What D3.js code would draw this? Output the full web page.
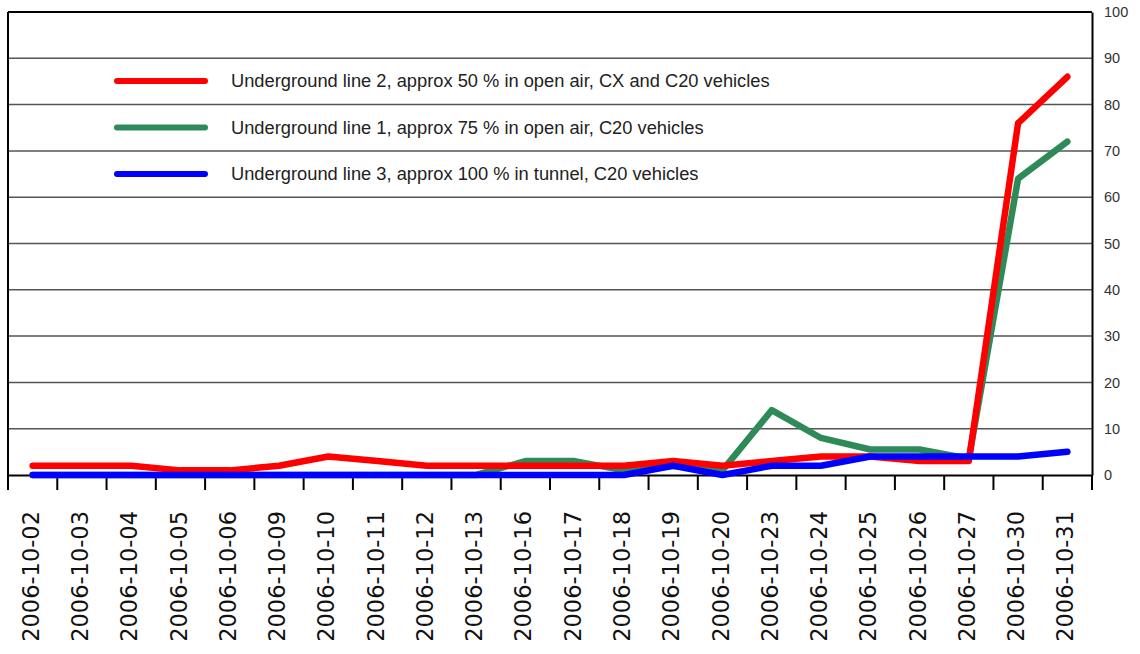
<!DOCTYPE html>
<html>
<head>
<meta charset="utf-8">
<script src="https://cdn.jsdelivr.net/npm/d3@7"></script>
<style>
  body { margin: 0; background: #fff; }
  .legendText { font-family: "Liberation Sans", Arial, sans-serif; font-size: 18.3px; fill: #222; }
  .yTick { font-family: "Liberation Sans", Arial, sans-serif; font-size: 14.5px; fill: #333; }
  .xTick { font-family: "DejaVu Sans", Verdana, sans-serif; font-size: 22.5px; fill: #111; }
</style>
</head>
<body>
<div class="chart"></div>
<script>
// chart data
var dates = ["2006-10-02", "2006-10-03", "2006-10-04", "2006-10-05", "2006-10-06", "2006-10-09",
  "2006-10-10", "2006-10-11", "2006-10-12", "2006-10-13", "2006-10-16", "2006-10-17",
  "2006-10-18", "2006-10-19", "2006-10-20", "2006-10-23", "2006-10-24", "2006-10-25",
  "2006-10-26", "2006-10-27", "2006-10-30", "2006-10-31"];

var line2 = [2, 2, 2, 1, 1, 2, 4, 3, 2, 2, 2, 2, 2, 3, 2, 3, 4, 4, 3, 3, 76, 86];
var line1 = [0, 0, 0, 0, 0, 0, 0, 0, 0, 0, 3, 3, 1, 2, 1, 14, 8, 5.5, 5.5, 3.5, 64, 72];
var line3 = [0, 0, 0, 0, 0, 0, 0, 0, 0, 0, 0, 0, 0, 2, 0, 2, 2, 4, 4, 4, 4, 5];

var yTicks = [0, 10, 20, 30, 40, 50, 60, 70, 80, 90, 100];

var seriesNames = ["Underground line 2, approx 50 % in open air, CX and C20 vehicles",
  "Underground line 1, approx 75 % in open air, C20 vehicles",
  "Underground line 3, approx 100 % in tunnel, C20 vehicles"];
var seriesColors = ["#ff0000", "#2e8b57", "#0000ff"];

// Set up the chart
var svgWidth = 1140;
var svgHeight = 654;
var margin = { top: 12, right: 48, bottom: 179, left: 8 };
var width = svgWidth - margin.left - margin.right;
var height = svgHeight - margin.top - margin.bottom;

var svg = d3.select(".chart")
  .append("svg")
  .attr("width", svgWidth)
  .attr("height", svgHeight);

var chartGroup = svg.append("g")
  .attr("transform", `translate(${margin.left},${margin.top})`);

// scales
var xBand = d3.scaleBand().domain(dates).range([0, width]);
var yScale = d3.scaleLinear().domain([0, 100]).range([height, 0]);

// gridlines
chartGroup.selectAll(".grid")
  .data(yTicks.slice(1, -1))
  .enter()
  .append("line")
  .attr("x1", 0)
  .attr("x2", width)
  .attr("y1", d => yScale(d))
  .attr("y2", d => yScale(d))
  .attr("stroke", "#555")
  .attr("stroke-width", 1.5);

// frame: top, left
chartGroup.append("line")
  .attr("x1", 0).attr("x2", width)
  .attr("y1", 0).attr("y2", 0)
  .attr("stroke", "#000").attr("stroke-width", 2);
chartGroup.append("line")
  .attr("x1", 0).attr("x2", 0)
  .attr("y1", 0).attr("y2", height)
  .attr("stroke", "#000").attr("stroke-width", 2);

// right axis
var rightAxis = d3.axisRight(yScale).tickValues(yTicks).tickSize(0).tickPadding(12);
var yAxisG = chartGroup.append("g")
  .attr("transform", `translate(${width}, 0)`)
  .call(rightAxis);
yAxisG.select(".domain").attr("stroke", "#000").attr("stroke-width", 2);
yAxisG.selectAll("text").attr("class", "yTick").attr("fill", null).attr("font-size", null).attr("font-family", null);

// bottom axis with band boundary ticks
var bottomAxis = d3.axisBottom(xBand).tickSize(0).tickFormat("");
var xAxisG = chartGroup.append("g")
  .attr("transform", `translate(0, ${height})`)
  .call(bottomAxis);
xAxisG.select(".domain").attr("stroke", "#000").attr("stroke-width", 2);

var boundaries = dates.map(d => xBand(d)).concat([width]);
xAxisG.selectAll(".bound")
  .data(boundaries)
  .enter()
  .append("line")
  .attr("x1", d => d).attr("x2", d => d)
  .attr("y1", 0).attr("y2", 15)
  .attr("stroke", "#000").attr("stroke-width", 2);

xAxisG.selectAll(".xTick")
  .data(dates)
  .enter()
  .append("text")
  .attr("class", "xTick")
  .attr("text-anchor", "end")
  .attr("transform", d => `translate(${xBand(d) + xBand.bandwidth() / 2 - 2}, 36) rotate(-90)`)
  .attr("dy", "0.36em")
  .text(d => d);

// series lines: green underneath, then red, blue on top
var allSeries = [line2, line1, line3];
var lineGen = d3.line()
  .x((d, i) => xBand(dates[i]) + xBand.bandwidth() / 2)
  .y(d => yScale(d));

[line1, line2, line3].forEach(function(s) {
  var idx = allSeries.indexOf(s);
  chartGroup.append("path")
    .datum(s)
    .attr("d", lineGen)
    .attr("fill", "none")
    .attr("stroke", seriesColors[idx])
    .attr("stroke-width", 6.5)
    .attr("stroke-linejoin", "round")
    .attr("stroke-linecap", "round");
});

// legend
var legend = svg.append("g");
seriesNames.forEach(function(name, i) {
  var y = 81 + i * 46.5;
  legend.append("line")
    .attr("x1", 117).attr("x2", 205)
    .attr("y1", y).attr("y2", y)
    .attr("stroke", seriesColors[i])
    .attr("stroke-width", 6)
    .attr("stroke-linecap", "round");
  legend.append("text")
    .attr("class", "legendText")
    .attr("x", 231)
    .attr("y", y)
    .attr("dy", "0.35em")
    .text(name);
});
</script>
</body>
</html>
